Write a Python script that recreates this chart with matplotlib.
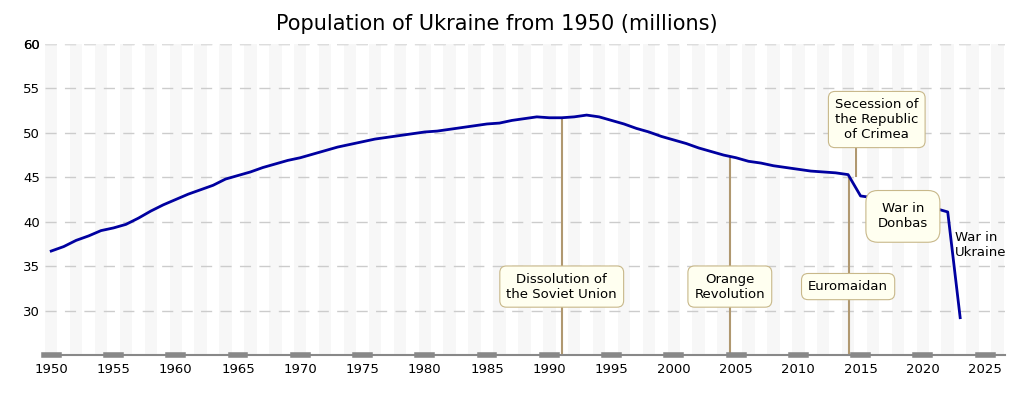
import numpy as np
from matplotlib import pyplot as plt

years = np.arange(1950, 2024)
population = [36.7, 37.2, 37.9, 38.4, 39.0, 39.3, 39.7, 40.4, 41.2, 41.9,
              42.5, 43.1, 43.6, 44.1, 44.8, 45.2, 45.6, 46.1, 46.5, 46.9,
              47.2, 47.6, 48.0, 48.4, 48.7, 49.0, 49.3, 49.5, 49.7, 49.9,
              50.1, 50.2, 50.4, 50.6, 50.8, 51.0, 51.1, 51.4, 51.6, 51.8,
              51.7, 51.7, 51.8, 52.0, 51.8, 51.4, 51.0, 50.5, 50.1, 49.6,
              49.2, 48.8, 48.3, 47.9, 47.5, 47.2, 46.8, 46.6, 46.3, 46.1,
              45.9, 45.7, 45.6, 45.5, 45.3, 42.9, 42.7, 42.5, 42.3, 42.3,
              41.8, 41.5, 41.1, 29.2]

# events: (line x, line top, label, box x, box y)
events = [
    (1991, 51.6, 'Dissolution of\nthe Soviet Union', 1991, 32.7),
    (2004.5, 47.3, 'Orange\nRevolution', 2004.5, 32.7),
    (2014.1, 45.2, 'Euromaidan', 2014.0, 32.7),
]
x_ticks = np.arange(1950, 2030, 5)
y_ticks = np.arange(30, 65, 5)

fig = plt.figure(figsize=(10.24, 4.01), dpi=100)
ax = fig.add_axes([45/1024, 46/401, 960/1024, 311/401])
ax.set_xlim(1949.5, 2026.6)
ax.set_ylim(25, 60)

# alternating background stripes
for y in range(1950, 2027, 2):
    ax.axvspan(y - 0.5, y + 0.5, color='#f7f7f7', zorder=0, lw=0)
for v in y_ticks:
    ax.axhline(v, color='#cccccc', lw=1, ls=(0, (8, 6)), zorder=1)
ax.axhline(60, color='#dddddd', lw=1, ls=(0, (8, 6)), zorder=1)

box = dict(boxstyle='round,pad=0.5', fc='#fffff0', ec='#c8b88a', lw=0.8)
line_col = '#b09870'
for lx, top, label, bx, by in events:
    ax.plot([lx, lx], [25, top], color=line_col, lw=1.5, zorder=2)
    ax.text(bx, by, label, ha='center', va='center', fontsize=9.5, bbox=box, zorder=4)

# Crimea and Donbas
ax.plot([2014.6, 2014.6], [45.1, 48.9], color=line_col, lw=1.5, zorder=2)
ax.text(2016.3, 51.5, 'Secession of\nthe Republic\nof Crimea', ha='center', va='center',
        fontsize=9.5, bbox=box, zorder=4)
ax.text(2018.4, 40.6, 'War in\nDonbas', ha='center', va='center', fontsize=9.5,
        bbox=dict(boxstyle='round,pad=0.9', fc='#fffff0', ec='#c8b88a', lw=0.8), zorder=4)
ax.text(2022.6, 37.4, 'War in\nUkraine', ha='left', va='center', fontsize=9.5, zorder=4)

ax.plot(years, population, color='#0000a0', lw=2, zorder=3)

ax.set_xticks(x_ticks)
ax.set_yticks(y_ticks.tolist() + [60])
ax.tick_params(axis='x', length=0, labelsize=9.5, pad=6)
ax.tick_params(axis='y', length=0, labelsize=9.5)
for t in x_ticks:
    ax.plot([t - 0.6, t + 0.6], [25, 25], color='#888888', lw=4, clip_on=False, zorder=5)
for s in ['top', 'right', 'left']:
    ax.spines[s].set_visible(False)
ax.spines['bottom'].set_color('#888888')
ax.spines['bottom'].set_linewidth(1.5)

fig.text(0.485, 0.94, 'Population of Ukraine from 1950 (millions)', ha='center', va='center', fontsize=15)
fig.savefig('out.png', dpi=100)
